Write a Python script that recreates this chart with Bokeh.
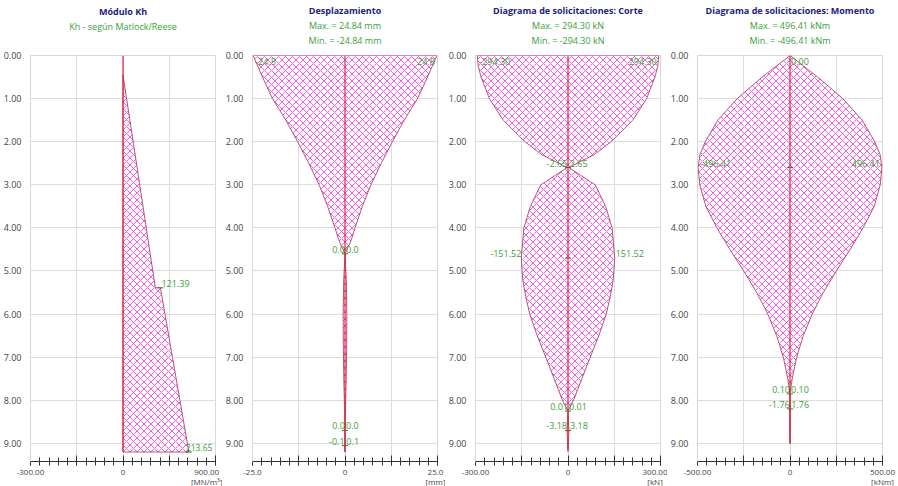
import numpy as np
from bokeh.plotting import figure
from bokeh.models import Range1d, FixedTicker, Label, Title
from bokeh.layouts import row
from bokeh.embed import file_html
from bokeh.resources import INLINE

# ---------------- data ----------------
depth_ticks = [0, 1, 2, 3, 4, 5, 6, 7, 8, 9]
pile_length = 9.2

kh_depth = [0.45, 5.39, 5.39, 9.2]
kh_value = [0.0, 105.0, 121.39, 213.65]

disp_depth = [0.0, 0.5, 1.0, 1.5, 2.0, 2.5, 3.0, 3.5, 4.0, 4.3, 4.6, 5.2, 6.0, 6.8, 7.6, 8.2, 8.7, 9.05, 9.2]
disp_value = [24.84, 22.3, 19.6, 16.0, 12.8, 9.8, 7.0, 4.7, 2.7, 1.6, 0.0, 0.35, 0.5, 0.45, 0.3, 0.12, 0.0, 0.1, 0.0]

shear_depth = [0.0, 0.25, 0.5, 1.0, 1.5, 2.0, 2.3, 2.6, 3.0, 3.5, 4.0, 4.7, 5.2, 5.6, 6.0, 6.5, 7.0, 7.5, 8.0, 8.25, 8.7, 9.15]
shear_value = [294.30, 291, 282, 255, 210, 140, 85, 2.65, 88, 122, 143, 151.52, 147, 137, 124, 100, 72, 45, 18, 0.01, 3.18, 0.0]

mom_depth = [0.0, 0.5, 1.0, 1.5, 2.0, 2.3, 2.6, 3.0, 3.5, 4.0, 4.5, 5.0, 5.5, 6.0, 6.5, 7.0, 7.5, 7.85, 8.2, 9.0]
mom_value = [0.0, 150, 285, 390, 458, 487, 496.41, 488, 455, 395, 325, 250, 180, 120, 72, 36, 12, 0.10, 1.76, 0.0]

panels = [
    dict(title="Módulo Kh", sub=["Kh - según Matlock/Reese"], lim=300,
         tick_text=["-300.00", "0", "900.00"], unit="[MN/m³]"),
    dict(title="Desplazamiento", sub=["Max. = 24.84 mm", "Min. = -24.84 mm"], lim=25,
         tick_text=["-25.0", "0", "25.0"], unit="[mm]"),
    dict(title="Diagrama de solicitaciones: Corte", sub=["Max. = 294.30 kN", "Min. = -294.30 kN"], lim=300,
         tick_text=["-300.00", "0", "300.00"], unit="[kN]"),
    dict(title="Diagrama de solicitaciones: Momento", sub=["Max. = 496.41 kNm", "Min. = -496.41 kNm"], lim=500,
         tick_text=["-500.00", "0", "500.00"], unit="[kNm]"),
]

# annotated points: (depth, left text, right text, value, inside)
kh_marks = [(5.39, None, "121.39", 121.39, False)]
disp_marks = [(0.0, "-24.8", "24.8", 24.84, True), (4.6, "0.0", "0.0", 0.0, False),
              (8.7, "0.0", "0.0", 0.0, False), (9.05, "-0.1", "0.1", 0.1, False)]
shear_marks = [(0.0, "-294.30", "294.30", 294.30, True), (2.6, "-2.65", "2.65", 2.65, False),
               (4.7, "-151.52", "151.52", 151.52, False), (8.25, "0.01", "0.01", 0.01, False),
               (8.7, "-3.18", "3.18", 3.18, False)]
mom_marks = [(0.0, None, "0.00", 0.0, True), (2.6, "-496.41", "496.41", 496.41, True),
             (7.85, "0.10", "0.10", 0.10, False), (8.2, "-1.76", "1.76", 1.76, False)]

lefts = [28, 30, 25, 28]
rights = [7, 8, 7, 25]

FONT = "Open Sans"
GREEN = "#3a9e3a"
NAVY = "#1c2280"
HATCH = "#ff2fd8"
EDGE = "#a03050"
PILE = "#e8233c"
Y_BOTTOM = 9.42


def spacer(p, size):
    p.add_layout(Title(text=" ", text_font_size=size, standoff=0, text_color="white",
                       text_line_height=1.0), "above")


def make_panel(i, cfg):
    lim = cfg["lim"]
    p = figure(frame_width=185, frame_height=406, output_backend="svg", toolbar_location=None,
               x_range=Range1d(-lim, lim), y_range=Range1d(Y_BOTTOM, 0), title=None,
               min_border_left=lefts[i], min_border_right=rights[i],
               min_border_top=55, min_border_bottom=22)
    p.outline_line_color = "#d8d8d8"
    p.background_fill_color = "white"
    p.border_fill_color = "white"

    # x axis
    xa = p.xaxis[0]
    xa.ticker = FixedTicker(ticks=[-lim, -lim / 2, 0, lim / 2, lim],
                            minor_ticks=[-lim + k * lim / 10 for k in range(21)])
    xa.major_label_overrides = {-lim: cfg["tick_text"][0], -lim / 2: "", 0: cfg["tick_text"][1],
                                lim / 2: "", lim: cfg["tick_text"][2] + "\n" + cfg["unit"]}
    xa.major_label_text_font = FONT
    xa.major_label_text_font_size = "8px"
    xa.major_label_text_color = "#444444"
    xa.major_label_text_line_height = 0.95
    xa.major_label_standoff = 0
    xa.axis_line_color = "#333333"
    xa.major_tick_line_color = "#333333"
    xa.minor_tick_line_color = "#333333"
    xa.major_tick_in = 6
    xa.major_tick_out = 4
    xa.minor_tick_in = 4
    xa.minor_tick_out = 4

    # y axis (depth)
    ya = p.yaxis[0]
    ya.ticker = FixedTicker(ticks=depth_ticks)
    ya.major_label_overrides = {t: f"{t:.2f}" for t in depth_ticks}
    ya.major_label_text_font = FONT
    ya.major_label_text_font_size = "9px"
    ya.major_label_text_color = "#444444"
    ya.axis_line_color = "#d8d8d8"
    ya.major_tick_line_color = None
    ya.minor_tick_line_color = None
    ya.major_label_standoff = 3

    p.xgrid.grid_line_color = "#dcdcdc"
    p.ygrid.grid_line_color = "#dcdcdc"

    # titles (first added sits nearest the frame)
    spacer(p, "7px")
    if len(cfg["sub"]) == 1:
        spacer(p, "11px")
    for s in reversed(cfg["sub"]):
        p.add_layout(Title(text=s, align="center", text_font=FONT, text_font_size="9px",
                           text_font_style="normal", text_color=GREEN, standoff=0,
                           text_line_height=1.0), "above")
    p.add_layout(Title(text=cfg["title"], align="center", text_font=FONT, text_font_size="9px",
                       text_font_style="bold", text_color=NAVY, standoff=0,
                       text_line_height=1.0), "above")
    return p


def envelope(p, depth, val):
    d = np.array(depth, dtype=float)
    v = np.array(val, dtype=float)
    xs = np.concatenate([v, -v[::-1]])
    ys = np.concatenate([d, d[::-1]])
    p.patch(xs, ys, fill_color="white", hatch_pattern="diagonal_cross", hatch_color=HATCH,
            hatch_scale=7, hatch_weight=0.8, line_color=EDGE, line_width=0.8)


def marks(p, mk):
    for dep, lt, rt, v, inside in mk:
        base = "top" if dep == 0 else "bottom"
        yo = -2 if dep == 0 else 1
        if lt is not None:
            p.add_layout(Label(x=-v, y=dep, text=lt, text_align="left" if inside else "right",
                               text_baseline=base, x_offset=2 if inside else 0, y_offset=yo,
                               text_font=FONT, text_font_size="9px", text_color=GREEN))
        if rt is not None:
            p.add_layout(Label(x=v, y=dep, text=rt,
                               text_align="right" if (inside and v > 0) else "left",
                               text_baseline=base, x_offset=-2 if (inside and v > 0) else 1,
                               y_offset=yo, text_font=FONT, text_font_size="9px", text_color=GREEN))
        if dep > 0:
            p.scatter([0 if lt is not None else v], [dep], marker="dash", size=6, color="#556b2f")


figs = [make_panel(i, c) for i, c in enumerate(panels)]

# panel 1: Kh
kx = [0.0] + kh_value + [0.0]
ky = [kh_depth[0]] + kh_depth + [kh_depth[-1]]
figs[0].patch(kx, ky, fill_color="white", hatch_pattern="diagonal_cross", hatch_color=HATCH,
              hatch_scale=7, hatch_weight=0.8, line_color=EDGE, line_width=0.8)
figs[0].line([0, 0], [0, pile_length], line_color=PILE, line_width=1.2)
marks(figs[0], kh_marks)
figs[0].add_layout(Label(x=kh_value[-1], y=kh_depth[-1], text="213.65", text_align="left",
                         text_baseline="bottom", x_offset=-3, y_offset=1, text_font=FONT,
                         text_font_size="8.5px", text_color=GREEN))
figs[0].scatter([kh_value[-1]], [kh_depth[-1]], marker="dash", size=6, color="#556b2f")

envelope(figs[1], disp_depth, disp_value)
figs[1].line([0, 0], [0, pile_length], line_color=PILE, line_width=1.2)
marks(figs[1], disp_marks)

envelope(figs[2], shear_depth, shear_value)
figs[2].line([0, 0], [0, pile_length], line_color=PILE, line_width=1.2)
marks(figs[2], shear_marks)

envelope(figs[3], mom_depth, mom_value)
figs[3].line([0, 0], [0, 9.0], line_color=PILE, line_width=1.2)
marks(figs[3], mom_marks)

layout = row(*figs, spacing=0)
open("out.html", "w").write(file_html(layout, INLINE))
